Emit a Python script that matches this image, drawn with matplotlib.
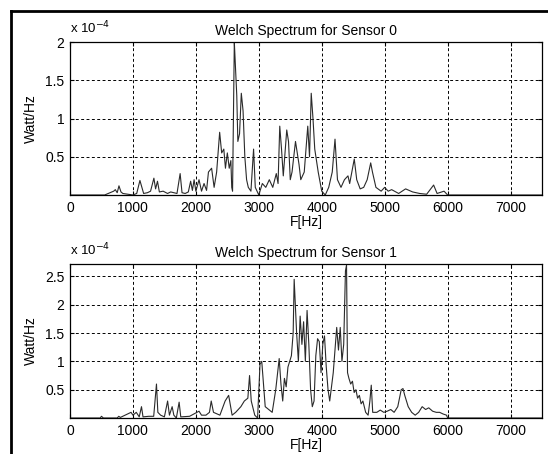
import matplotlib
matplotlib.use("Agg")
import matplotlib.pyplot as plt
from matplotlib.lines import Line2D

plt.rcParams['font.family'] = ['Liberation Sans', 'DejaVu Sans']

# spectrum values are in units of 1e-4 Watt/Hz
freq0 = [0, 550, 694, 720, 750, 778, 810, 840, 1000, 1060, 1111, 1170, 1230, 1280,
         1333, 1360, 1390, 1420, 1480, 1550, 1600, 1700, 1750, 1780, 1830, 1880, 1917,
         1945, 1972, 2000, 2050, 2090, 2130, 2170, 2200, 2250, 2290, 2330, 2378, 2410,
         2444, 2470, 2500, 2530, 2556, 2570, 2583, 2611, 2622, 2650, 2667, 2694, 2722,
         2750, 2778, 2806, 2833, 2875, 2917, 2944, 3000, 3056, 3111, 3167, 3222, 3278,
         3306, 3333, 3361, 3389, 3444, 3472, 3500, 3528, 3583, 3639, 3667, 3722, 3778,
         3806, 3833, 3861, 3889, 3944, 4000, 4056, 4111, 4167, 4211, 4250, 4306, 4361,
         4417, 4444, 4517, 4556, 4611, 4667, 4722, 4778, 4806, 4861, 4944, 5000, 5056,
         5111, 5222, 5333, 5444, 5556, 5667, 5778, 5833, 5944, 6000, 7500]
psd0 = [0, 0, 0.05, 0.07, 0.03, 0.12, 0.04, 0.02, 0, 0.02, 0.19, 0.02, 0.03, 0.05,
        0.22, 0.08, 0.18, 0.04, 0.05, 0.02, 0.04, 0.02, 0.28, 0.03, 0.02, 0.04, 0.18,
        0.06, 0.2, 0.05, 0.2, 0.05, 0.15, 0.06, 0.3, 0.35, 0.1, 0.3, 0.82, 0.55,
        0.6, 0.35, 0.55, 0.35, 0.45, 0.1, 0.05, 2.0, 1.8, 1.3, 0.7, 0.8, 1.33,
        1.1, 0.5, 0.2, 0.1, 0.05, 0.6, 0.1, 0.0, 0.15, 0.1, 0.2, 0.1, 0.28,
        0.15, 0.9, 0.6, 0.25, 0.85, 0.7, 0.2, 0.3, 0.7, 0.4, 0.2, 0.3, 0.9,
        0.5, 1.33, 1.0, 0.6, 0.3, 0.05, 0.0, 0.1, 0.3, 0.73, 0.2, 0.1, 0.2,
        0.25, 0.15, 0.47, 0.2, 0.08, 0.1, 0.2, 0.42, 0.3, 0.1, 0.05, 0.1, 0.05,
        0.07, 0.02, 0.08, 0.04, 0.02, 0.01, 0.13, 0.02, 0.05, 0.0, 0.0]

freq1 = [0, 480, 500, 530, 750, 775, 800, 970, 1000, 1053, 1100, 1136, 1160, 1250,
         1330, 1374, 1396, 1440, 1500, 1551, 1580, 1623, 1650, 1690, 1734, 1760, 1900,
         2050, 2090, 2160, 2216, 2244, 2280, 2382, 2465, 2521, 2576, 2632, 2715, 2770,
         2826, 2853, 2880, 2936, 2981, 3019, 3047, 3075, 3102, 3158, 3213, 3269, 3324,
         3352, 3380, 3407, 3435, 3463, 3490, 3518, 3546, 3562, 3580, 3601, 3629, 3657,
         3685, 3712, 3740, 3767, 3795, 3823, 3850, 3878, 3906, 3934, 3961, 3989, 4017,
         4044, 4072, 4100, 4127, 4183, 4238, 4266, 4294, 4321, 4349, 4377, 4394, 4410,
         4432, 4460, 4488, 4515, 4543, 4570, 4598, 4626, 4654, 4698, 4737, 4765, 4787,
         4810, 4875, 4930, 4986, 5040, 5097, 5150, 5208, 5263, 5291, 5319, 5374, 5429,
         5485, 5540, 5596, 5651, 5700, 5762, 5820, 5873, 5930, 5983, 6000, 7500]
psd1 = [0, 0, 0.03, 0, 0, 0.03, 0.01, 0.1, 0.05, 0.1, 0.02, 0.2, 0.02, 0.03,
        0.03, 0.6, 0.1, 0.05, 0.02, 0.3, 0.05, 0.2, 0.05, 0.0, 0.28, 0.02, 0.03,
        0.12, 0.05, 0.05, 0.1, 0.3, 0.1, 0.05, 0.3, 0.4, 0.05, 0.1, 0.2, 0.3,
        0.35, 0.75, 0.3, 0.05, 0.0, 0.95, 1.0, 0.6, 0.2, 0.15, 0.1, 0.5, 1.05,
        0.6, 0.3, 0.7, 0.55, 0.9, 1.0, 1.1, 1.5, 2.45, 2.0, 1.5, 1.0, 1.8,
        1.3, 1.7, 1.0, 1.9, 1.3, 0.5, 0.2, 0.3, 1.1, 1.4, 1.35, 0.8, 1.3,
        1.45, 0.9, 0.5, 0.3, 0.8, 1.6, 1.2, 1.6, 1.0, 1.3, 2.6, 2.7, 0.8,
        0.7, 0.6, 0.65, 0.45, 0.5, 0.35, 0.4, 0.25, 0.3, 0.1, 0.05, 0.3, 0.58,
        0.1, 0.1, 0.14, 0.1, 0.12, 0.15, 0.1, 0.2, 0.5, 0.52, 0.4, 0.2, 0.1,
        0.05, 0.1, 0.2, 0.15, 0.18, 0.12, 0.1, 0.1, 0.07, 0.05, 0.0, 0.0]

titles = ["Welch Spectrum for Sensor 0", "Welch Spectrum for Sensor 1"]
ytick_sets = [[0.5, 1, 1.5, 2], [0.5, 1, 1.5, 2, 2.5]]
ytick_labels = [["0.5", "1", "1.5", "2"], ["0.5", "1", "1.5", "2", "2.5"]]
ytops = [2.0, 2.72]
xticks = [0, 1000, 2000, 3000, 4000, 5000, 6000, 7000]

fig = plt.figure(figsize=(5.48, 4.54), dpi=100)
W, H = 548.0, 454.0
boxes = [(70, 42, 542, 195), (70, 264, 542, 418)]

for i, (x, y) in enumerate([(freq0, psd0), (freq1, psd1)]):
    l, t, r, b = boxes[i]
    ax = fig.add_axes([l / W, 1 - b / H, (r - l) / W, (b - t) / H])
    ax.plot(x, y, color='#2a2a2a', lw=0.8)
    ax.set_xlim(0, 7500)
    ax.set_ylim(0, ytops[i])
    ax.set_xticks(xticks)
    ax.set_yticks(ytick_sets[i])
    ax.set_yticklabels(ytick_labels[i])
    ax.grid(True, color='black', linestyle=(0, (3, 2.5)), linewidth=0.7)
    ax.tick_params(direction='in', length=3, top=True, right=True,
                   labelsize=10, pad=4, colors='black')
    for s in ax.spines.values():
        s.set_linewidth(0.9)
    ax.set_title(titles[i], fontsize=10, pad=5)
    ax.set_xlabel("F[Hz]", fontsize=10, labelpad=0)
    ax.set_ylabel("Watt/Hz", fontsize=10, labelpad=5)
    ax.text(0.0, 1.04, r"x 10$^{-4}$", transform=ax.transAxes, fontsize=9.5,
            ha='left', va='bottom')

# outer frame of the screenshot
fig.add_artist(Line2D([11 / W, 11 / W], [0, 1 - 11 / H], color='black', lw=2,
                      transform=fig.transFigure))
fig.add_artist(Line2D([11 / W, 1], [1 - 11 / H, 1 - 11 / H], color='black', lw=2,
                      transform=fig.transFigure))

fig.savefig("out.png", dpi=100)
